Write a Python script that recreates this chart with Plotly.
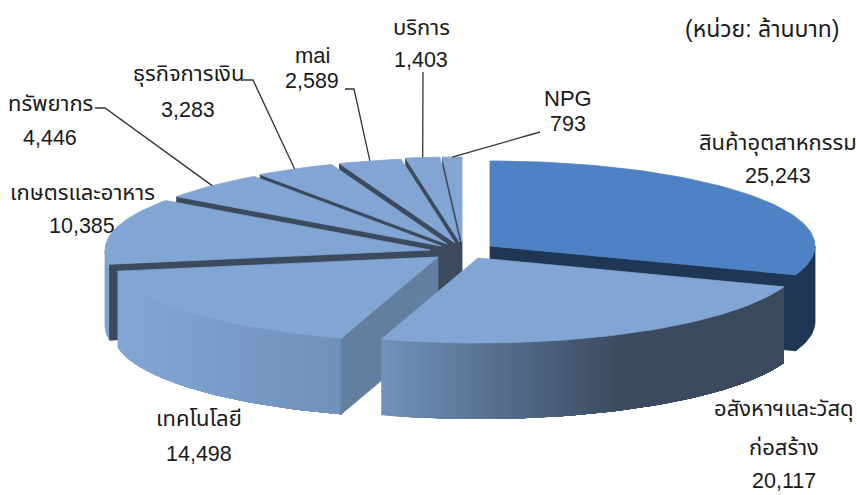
import math
import plotly.graph_objects as go

# ---- data ----
categories = ["สินค้าอุตสาหกรรม", "อสังหาฯและวัสดุ<br>ก่อสร้าง", "เทคโนโลยี", "เกษตรและอาหาร",
              "ทรัพยากร", "ธุรกิจการเงิน", "mai", "บริการ", "NPG"]
values = [25243, 20117, 14498, 10385, 4446, 3283, 2589, 1403, 793]
unit_note = "(หน่วย: ล้านบาท)"

# ---- drawing style / layout (pixels of the 857x495 plot area) ----
RX, RY, DEPTH = 325, 85, 76
centres = [(490, 246), (478, 258), (438, 257), (430, 250), (441, 246),
           (447, 244), (455, 243), (459.5, 242), (462, 242)]
LIGHT, BLUE = "#82a5d3", "#4e82c4"
top_col = [BLUE] + [LIGHT] * 8
cut_col = ["#203655", "#3c4a5e", "#627f9f"] + ["#3c4a5e"] * 6
wall_left = ["#203655", "#7191ba", "#84a6d6", "#7fa1cf"] + ["#7fa1cf"] * 5
wall_right = ["#203655", "#3b4a5e", "#6f90b8", "#7fa1cf"] + ["#7fa1cf"] * 5
draw_order = [8, 7, 6, 5, 4, 3, 2, 0, 1]

label_pos = [
    (778, [143], 176), (784, [409, 447], 481), (199, [418], 454), (82, [192], 226),
    (50, [103], 138), (188, [74], 110), (312, [55], 81), (421, [27], 60), (568, [98], 124),
]
leaders = {4: [(95, 108), (105, 108)], 5: [(243, 80), (253, 80)], 6: [(345, 89), (354, 89)],
           7: [(423, 72)], 8: [(540, 132)]}

total = sum(values)
starts, a = [], 0.0
for v in values:
    starts.append(a)
    a += v / total * 360
ends = starts[1:] + [360.0]


def rim(i, deg, dy=0.0):
    cx, cy = centres[i]
    t = math.radians(deg)
    return cx + RX * math.sin(t), cy - RY * math.cos(t) + dy


def mix(c1, c2, f):
    p = [int(c1[k:k + 2], 16) for k in (1, 3, 5)]
    q = [int(c2[k:k + 2], 16) for k in (1, 3, 5)]
    return "#%02x%02x%02x" % tuple(round(p[k] + (q[k] - p[k]) * f) for k in range(3))


fig = go.Figure()


def poly(pts, colour, lw=0.8):
    xs = [p[0] for p in pts] + [pts[0][0]]
    ys = [p[1] for p in pts] + [pts[0][1]]
    fig.add_trace(go.Scatter(x=xs, y=ys, mode="lines", fill="toself", fillcolor=colour,
                             line=dict(color=colour, width=lw), hoverinfo="skip", showlegend=False))


def arc(i, a0, a1, dy=0.0, step=1.5):
    n = max(2, int(abs(a1 - a0) / step))
    return [rim(i, a0 + (a1 - a0) * k / n, dy) for k in range(n + 1)]


for i in draw_order:
    s, e = starts[i], ends[i]
    cx, cy = centres[i]
    # front-facing part of the outer wall
    lo, hi = max(s, 90.0), min(e, 270.0)
    if s >= 270:
        lo, hi = 1, 0
    if hi > lo:
        if wall_left[i] == wall_right[i]:
            poly(arc(i, lo, hi) + arc(i, hi, lo, DEPTH), wall_left[i])
        else:
            # gradient: painted left to right, each band reaching to the wall's end
            x_l, x_r = rim(i, hi)[0], rim(i, lo)[0]
            n = 90
            for k in range(n):
                a1 = hi - (hi - lo) * k / n
                xm = rim(i, a1)[0]
                f = min(1.0, (xm - 380) / 240) if i == 1 else (xm - x_l) / (x_r - x_l)
                poly(arc(i, a1, lo) + arc(i, lo, a1, DEPTH), mix(wall_left[i], wall_right[i], f), lw=0)
    # cut face seen from the front
    if i != 1:
        p = rim(i, e if i == 0 else s)
        poly([(cx, cy), p, (p[0], p[1] + DEPTH), (cx, cy + DEPTH)], cut_col[i])
    # top face
    poly([(cx, cy)] + arc(i, s, e), top_col[i])

# leader lines end on the rim at each slice's mid angle
for i, path in leaders.items():
    end = rim(i, (starts[i] + ends[i]) / 2)
    pts = path + [end]
    fig.add_trace(go.Scatter(x=[p[0] for p in pts], y=[p[1] for p in pts], mode="lines",
                             line=dict(color="#333333", width=1.3), hoverinfo="skip", showlegend=False))

FAMILY = "Arial, Liberation Sans, Noto Sans Thai, DejaVu Sans, sans-serif"


def label(x, y, text, size=22):
    fig.add_annotation(x=x, y=y, text=text, showarrow=False,
                       font=dict(family=FAMILY, size=size, color="#1a1a1a"),
                       xanchor="center", yanchor="middle")


for i, (name, (x, ys, vy)) in enumerate(zip(categories, label_pos)):
    for line, y in zip(name.split("<br>"), ys):
        label(x, y, line)
    label(x, vy, f"{values[i]:,}", size=21.5)
label(762, 29, unit_note, size=23)

fig.update_layout(
    width=857, height=495, margin=dict(l=0, r=0, t=0, b=0),
    paper_bgcolor="white", plot_bgcolor="white", showlegend=False,
    xaxis=dict(range=[0, 857], visible=False, fixedrange=True),
    yaxis=dict(range=[495, 0], visible=False, fixedrange=True),
)
fig.write_html("out.html", config={"displayModeBar": False},
               post_script="document.body.style.margin='0';document.body.style.overflow='hidden';")
